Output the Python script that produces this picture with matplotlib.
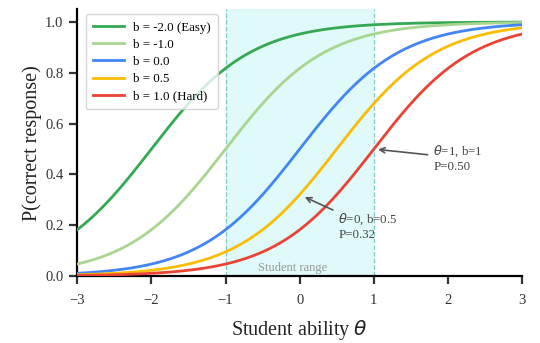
import numpy as np
import matplotlib
matplotlib.use("Agg")
import matplotlib.pyplot as plt

# IRT item parameters
difficulties = [-2.0, -1.0, 0.0, 0.5, 1.0]
labels = ["b = -2.0 (Easy)", "b = -1.0", "b = 0.0", "b = 0.5", "b = 1.0 (Hard)"]
colors = ["#34a853", "#a8d58f", "#4285f4", "#fbbc04", "#ea4335"]
discrimination = 1.5
theta = np.linspace(-3, 3, 301)

plt.rcParams['font.family'] = ['Liberation Serif', 'DejaVu Serif']
plt.rcParams['mathtext.fontset'] = 'dejavusans'

fig = plt.figure(figsize=(5.4, 3.43), dpi=100)
ax = fig.add_axes([0.143, 0.195, 0.824, 0.778])

ax.axvspan(-1, 1, color="#c8f7f7", alpha=0.55, lw=0, zorder=0)
for xv in (-1, 1):
    ax.axvline(xv, color="#7fc9cc", ls="--", lw=0.9, zorder=1)

for b, lab, c in zip(difficulties, labels, colors):
    p = 1.0 / (1.0 + np.exp(-discrimination * (theta - b)))
    ax.plot(theta, p, color=c, lw=2, label=lab, zorder=3)

ax.annotate(r"$\theta$=1, b=1" + "\nP=0.50", xy=(1, 0.5), xytext=(1.8, 0.465),
            fontsize=9.3, color="#444444", va="center", ha="left",
            arrowprops=dict(arrowstyle="->", color="#555555", lw=1.2, shrinkA=2, shrinkB=3))
ax.annotate(r"$\theta$=0, b=0.5" + "\nP=0.32", xy=(0, 0.32), xytext=(0.52, 0.197),
            fontsize=9.3, color="#444444", va="center", ha="left",
            arrowprops=dict(arrowstyle="->", color="#555555", lw=1.2, shrinkA=2, shrinkB=4))

ax.text(-0.1, 0.03, "Student range", fontsize=9, color="#999999", ha="center", va="center")

ax.set_xlim(-3, 3)
ax.set_ylim(0, 1.05)
ax.set_xticks([-3, -2, -1, 0, 1, 2, 3])
ax.set_yticks([0.0, 0.2, 0.4, 0.6, 0.8, 1.0])
ax.spines['top'].set_visible(False)
ax.spines['right'].set_visible(False)
ax.spines['left'].set_linewidth(1.6)
ax.spines['bottom'].set_linewidth(1.6)
ax.tick_params(axis='both', direction='out', length=6, width=1.6, labelsize=10.5,
               colors="#333333", labelcolor="#333333")
ax.tick_params(axis='x', pad=7)
ax.tick_params(axis='y', pad=4)
ax.set_xlabel(r"Student ability $\theta$", fontsize=14.5, color="#222222", labelpad=8)
ax.set_ylabel("P(correct response)", fontsize=14.5, color="#222222", labelpad=2)

leg = ax.legend(loc="upper left", fontsize=9.3, frameon=True, fancybox=True,
                borderpad=0.55, handlelength=2.4, handletextpad=0.7, labelspacing=0.4,
                bbox_to_anchor=(0.005, 1.005))
leg.get_frame().set_edgecolor("#cccccc")

fig.savefig("out.png", dpi=100)
